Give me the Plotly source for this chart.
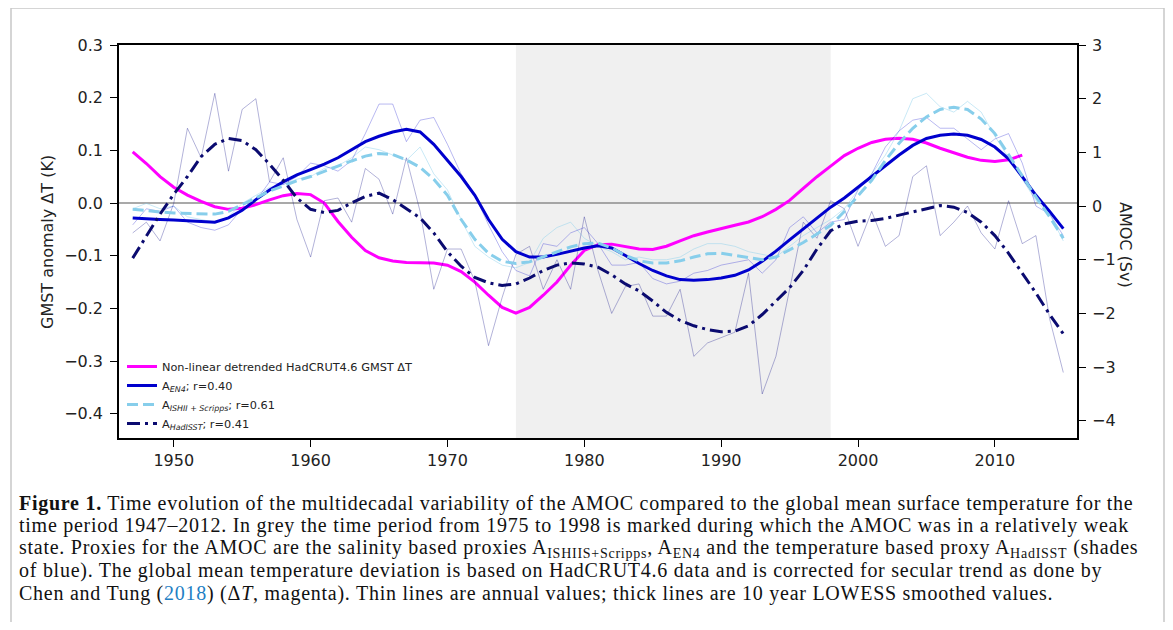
import plotly.graph_objects as go

# ---------------- data ----------------
years_t = list(range(1947, 2013))
gmst_smooth = [0.097, 0.075, 0.050, 0.030, 0.015, 0.003, -0.007, -0.012, -0.010, -0.003,
               0.006, 0.014, 0.018, 0.016, 0.000, -0.035, -0.065, -0.090, -0.104, -0.110,
               -0.113, -0.114, -0.114, -0.118, -0.130, -0.150, -0.175, -0.198, -0.209, -0.198,
               -0.175, -0.150, -0.118, -0.090, -0.079, -0.078, -0.082, -0.087, -0.088, -0.082,
               -0.072, -0.062, -0.055, -0.048, -0.042, -0.036, -0.026, -0.012, 0.005, 0.028,
               0.050, 0.070, 0.090, 0.104, 0.115, 0.121, 0.123, 0.121, 0.114, 0.104,
               0.095, 0.087, 0.081, 0.079, 0.082, 0.091]

years_a = list(range(1947, 2016))
en4_smooth = [-0.22, -0.24, -0.25, -0.26, -0.27, -0.29, -0.30, -0.22, -0.08, 0.12,
              0.30, 0.45, 0.58, 0.68, 0.78, 0.90, 1.05, 1.20, 1.30, 1.38,
              1.43, 1.38, 1.15, 0.85, 0.55, 0.20, -0.25, -0.62, -0.85, -0.95,
              -0.95, -0.90, -0.84, -0.78, -0.74, -0.78, -0.92, -1.07, -1.20, -1.30,
              -1.37, -1.38, -1.37, -1.34, -1.29, -1.19, -1.03, -0.84, -0.63, -0.43,
              -0.22, -0.02, 0.15, 0.35, 0.55, 0.75, 0.95, 1.13, 1.26, 1.32,
              1.34, 1.32, 1.24, 1.10, 0.88, 0.55, 0.20, -0.10, -0.42]
ishii_smooth = [-0.06, -0.09, -0.11, -0.13, -0.14, -0.15, -0.15, -0.10, 0.02, 0.15,
                0.28, 0.38, 0.47, 0.55, 0.65, 0.74, 0.84, 0.93, 0.98, 0.96,
                0.86, 0.72, 0.50, 0.20, -0.25, -0.62, -0.88, -1.03, -1.07, -1.04,
                -0.95, -0.85, -0.76, -0.70, -0.69, -0.78, -0.92, -1.02, -1.06, -1.06,
                -1.02, -0.95, -0.89, -0.88, -0.92, -0.97, -1.00, -0.95, -0.82, -0.68,
                -0.52, -0.36, -0.10, 0.20, 0.48, 0.85, 1.17, 1.45, 1.66, 1.80,
                1.84, 1.80, 1.62, 1.35, 0.95, 0.55, 0.17, -0.20, -0.60]
hadisst_smooth = [-0.97, -0.55, -0.15, 0.22, 0.55, 0.92, 1.15, 1.26, 1.22, 1.05,
                  0.78, 0.48, 0.15, -0.06, -0.12, -0.08, 0.06, 0.18, 0.24, 0.12,
                  -0.05, -0.22, -0.50, -0.85, -1.12, -1.33, -1.43, -1.48, -1.45, -1.34,
                  -1.20, -1.10, -1.06, -1.08, -1.14, -1.28, -1.45, -1.58, -1.77, -1.98,
                  -2.13, -2.23, -2.30, -2.34, -2.33, -2.23, -2.02, -1.77, -1.52, -1.20,
                  -0.80, -0.46, -0.33, -0.28, -0.27, -0.23, -0.17, -0.10, -0.04, 0.01,
                  -0.02, -0.12, -0.30, -0.55, -0.88, -1.24, -1.62, -2.02, -2.38]

en4_annual = [-0.35, -0.05, -0.10, 0.00, -0.30, -0.40, -0.45, -0.35, -0.05, 0.10,
              0.45, 0.40, 0.55, 0.80, 0.75, 0.65, 0.85, 1.35, 1.90, 1.90,
              1.20, 1.60, 1.65, 1.15, 0.60, 0.20, -0.35, -0.85, -1.20, -1.30,
              -0.70, -0.75, -0.50, -0.40, -0.70, -1.10, -1.10, -1.05, -1.35, -1.45,
              -1.40, -1.25, -1.20, -1.10, -1.05, -1.00, -1.25, -1.00, -0.40, -0.20,
              -0.50, -0.30, -0.25, 0.30, 0.60, 1.10, 1.40, 1.60, 1.65, 1.45,
              1.45, 1.25, 1.05, 1.25, 1.35, 0.80, 0.00, -0.15, -0.55]
ishii_annual = [-0.05, 0.05, -0.05, 0.00, -0.20, -0.25, -0.30, -0.20, 0.05, 0.20,
                0.35, 0.40, 0.50, 0.55, 0.70, 0.75, 0.90, 1.10, 1.05, 0.95,
                0.85, 1.10, 0.60, 0.30, -0.25, -0.75, -0.95, -1.10, -1.15, -1.05,
                -0.60, -0.40, -0.30, -0.60, -0.75, -0.85, -1.00, -0.95, -1.00, -1.00,
                -0.95, -0.80, -0.70, -0.70, -0.75, -0.85, -0.90, -0.95, -0.75, -0.55,
                -0.40, -0.25, -0.05, 0.30, 0.60, 0.95, 1.40, 2.00, 2.10, 1.85,
                1.75, 1.95, 1.75, 1.30, 0.90, 0.50, 0.10, -0.15, -0.65]
hadisst_annual = [-0.50, -0.30, -0.65, 0.05, 1.45, 0.90, 2.10, 0.65, 1.80, 2.00,
                  0.45, 0.90, -0.25, -0.95, 0.10, 0.15, -0.30, 0.70, 0.50, -0.15,
                  0.90, -0.10, -1.55, -0.80, -0.80, -1.40, -2.60, -1.70, -0.90, -0.75,
                  -1.55, -1.00, -1.55, -0.20, -1.20, -2.00, -1.50, -1.45, -2.05, -2.05,
                  -1.55, -2.80, -2.55, -2.45, -2.35, -1.25, -3.50, -2.80, -1.55, -0.30,
                  -0.60, 0.10, -0.05, -0.75, -0.10, -0.75, -0.55, 0.55, 0.75, -0.55,
                  -0.30, 0.00, -0.50, -0.80, 0.10, -0.70, -0.55, -2.10, -3.10]

x_ticks = [1950, 1960, 1970, 1980, 1990, 2000, 2010]
y1_ticks = [-0.4, -0.3, -0.2, -0.1, 0.0, 0.1, 0.2, 0.3]
y1_labels = ["\u22120.4", "\u22120.3", "\u22120.2", "\u22120.1", "0.0", "0.1", "0.2", "0.3"]
y2_ticks = [-4, -3, -2, -1, 0, 1, 2, 3]
y2_labels = ["\u22124", "\u22123", "\u22122", "\u22121", "0", "1", "2", "3"]
weak_period = [1975, 1998]

# ---------------- layout geometry (screen pixels) ----------------
OFF = 8                      # page body margin
W, H = 1157, 614             # figure size so that OFF+W+OFF fits the window
L, R, T, B = 119, 1077, 45, 438   # plot-area edges on screen


def px(x):
    return (x - L) / (R - L)


def py(y):
    return (B - y) / (B - T)


fig = go.Figure()

# thin annual lines
fig.add_trace(go.Scatter(x=years_a, y=ishii_annual, yaxis="y2", mode="lines",
                         line=dict(color="rgba(135,206,235,0.45)", width=1), showlegend=False, hoverinfo="skip"))
fig.add_trace(go.Scatter(x=years_a, y=en4_annual, yaxis="y2", mode="lines",
                         line=dict(color="rgba(0,0,205,0.28)", width=1), showlegend=False, hoverinfo="skip"))
fig.add_trace(go.Scatter(x=years_a, y=hadisst_annual, yaxis="y2", mode="lines",
                         line=dict(color="rgba(0,0,128,0.30)", width=1), showlegend=False, hoverinfo="skip"))

# thick smoothed lines
fig.add_trace(go.Scatter(x=years_t, y=gmst_smooth, mode="lines", yaxis="y",
                         name="Non-linear detrended HadCRUT4.6 GMST \u0394T",
                         line=dict(color="#ff00ff", width=3)))
fig.add_trace(go.Scatter(x=years_a, y=en4_smooth, mode="lines", yaxis="y2",
                         name="A<sub><i>EN4</i></sub>; r=0.40",
                         line=dict(color="#0000cd", width=3)))
fig.add_trace(go.Scatter(x=years_a, y=ishii_smooth, mode="lines", yaxis="y2",
                         name="A<sub><i>ISHII + Scripps</i></sub>; r=0.61",
                         line=dict(color="#87ceeb", width=3, dash="11px,5px")))
fig.add_trace(go.Scatter(x=years_a, y=hadisst_smooth, mode="lines", yaxis="y2",
                         name="A<sub><i>HadISST</i></sub>; r=0.41",
                         line=dict(color="#0b0b70", width=3, dash="13px,5px,3px,5px")))

tickfont = dict(family="DejaVu Sans", size=16, color="#222")

fig.update_layout(
    width=W, height=H,
    margin=dict(l=L - OFF, r=OFF + W - R, t=T - OFF, b=OFF + H - B, pad=0),
    paper_bgcolor="white", plot_bgcolor="white",
    showlegend=True,
    legend=dict(x=px(122), y=py(352), xanchor="left", yanchor="top",
                bgcolor="rgba(0,0,0,0)", font=dict(family="DejaVu Sans", size=11.3, color="#222"),
                tracegroupgap=0, itemwidth=30),
    xaxis=dict(range=[1946, 2016], tickvals=x_ticks, showgrid=False, zeroline=False,
               showline=True, linecolor="black", linewidth=1.6, mirror=True,
               ticks="outside", ticklen=7, tickwidth=1.4, tickcolor="black", tickfont=tickfont),
    yaxis=dict(range=[-0.446, 0.3], tickvals=y1_ticks, ticktext=y1_labels, showgrid=False,
               zeroline=False, showline=True, linecolor="black", linewidth=1.6,
               ticks="outside", ticklen=7, tickwidth=1.4, tickcolor="black", tickfont=tickfont,
               ticklabelstandoff=4),
    yaxis2=dict(range=[-4.32, 3], tickvals=y2_ticks, ticktext=y2_labels, overlaying="y",
                side="right", showgrid=False, zeroline=False, showline=True, linecolor="black",
                linewidth=1.6, ticks="outside", ticklen=7, tickwidth=1.4, tickcolor="black",
                tickfont=tickfont, ticklabelstandoff=3),
)

# shaded weak-AMOC period and zero line
fig.add_shape(type="rect", xref="x", yref="paper", x0=weak_period[0], x1=weak_period[1], y0=0, y1=1,
              fillcolor="#f0f0f0", line=dict(width=0), layer="below")
fig.add_shape(type="line", xref="paper", yref="y", x0=0, x1=1, y0=0, y1=0,
              line=dict(color="#8c8c8c", width=1.5), layer="below")

# outer figure border
fig.add_shape(type="rect", xref="paper", yref="paper", x0=px(11), x1=px(1164), y0=py(660), y1=py(8),
              line=dict(color="#c8c8c8", width=1.5), fillcolor="rgba(0,0,0,0)", layer="below")

# axis titles
fig.add_annotation(x=px(47), y=py(242), xref="paper", yref="paper", text="GMST anomaly \u0394T (K)",
                   textangle=-90, showarrow=False, xanchor="center", yanchor="middle",
                   font=dict(family="DejaVu Sans", size=16, color="#222"))
fig.add_annotation(x=px(1126), y=py(245), xref="paper", yref="paper", text="AMOC (Sv)",
                   textangle=90, showarrow=False, xanchor="center", yanchor="middle",
                   font=dict(family="DejaVu Sans", size=16, color="#222"))

# caption
caption = [
    "<b>Figure 1.</b> Time evolution of the multidecadal variability of the AMOC compared to the global mean surface temperature for the",
    "time period 1947\u20132012. In grey the time period from 1975 to 1998 is marked during which the AMOC was in a relatively weak",
    "state. Proxies for the AMOC are the salinity based proxies A<sub>ISHIIS+Scripps</sub>, A<sub>EN4</sub> and the temperature based proxy A<sub>HadISST</sub> (shades",
    "of blue). The global mean temperature deviation is based on HadCRUT4.6 data and is corrected for secular trend as done by",
    "Chen and Tung (<span style='color:#1f7fc4'>2018</span>) (\u0394<i>T</i>, magenta). Thin lines are annual values; thick lines are 10 year LOWESS smoothed values.",
]
cap_y = [503, 525.5, 548, 570.5, 593]
for txt, yy in zip(caption, cap_y):
    fig.add_annotation(x=px(17), y=py(yy), xref="paper", yref="paper",
                       text="<span style='letter-spacing:0.74px'>" + txt + "</span>", showarrow=False,
                       xanchor="left", yanchor="middle",
                       font=dict(family="Liberation Serif", size=20, color="#111"))

fig.write_html("out.html")
